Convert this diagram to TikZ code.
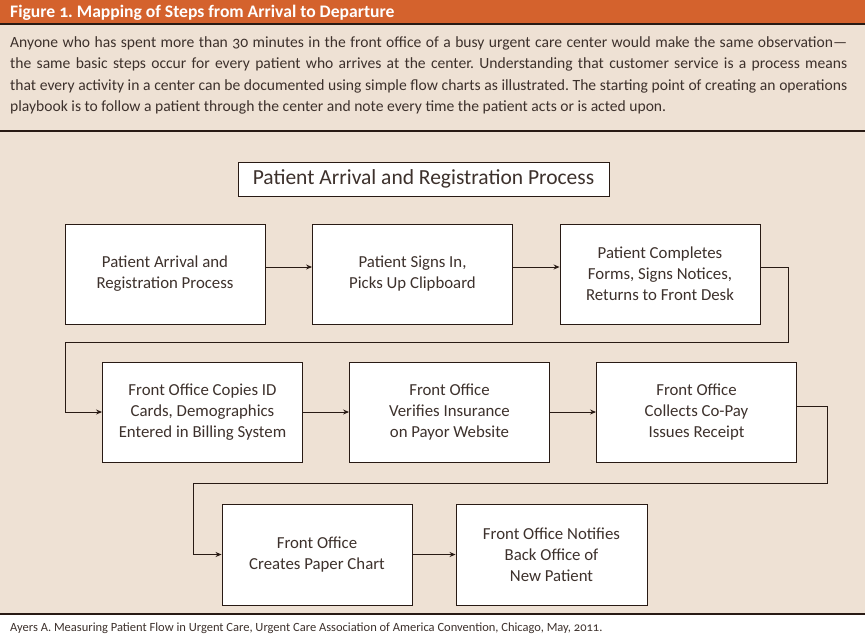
\documentclass[tikz,border=0pt]{standalone}
\usepackage{fontspec}
\setmainfont[Numbers=OldStyle]{Carlito}
\usetikzlibrary{arrows.meta}

\definecolor{headorange}{RGB}{212,98,45}
\definecolor{paperbeige}{RGB}{238,225,212}
\definecolor{inkline}{RGB}{40,26,20}

\tikzset{
  stepbox/.style={draw=inkline, fill=white, line width=0.9pt, align=center,
    minimum width=200pt, minimum height=100pt, inner sep=2pt,
    font=\fontsize{16.8}{21}\selectfont, text=inkline!90},
  flow/.style={draw=inkline, line width=0.9pt, -{Stealth[length=6pt,width=5pt]}},
}

\begin{document}
\frenchspacing
\hyphenpenalty=10000
\begin{tikzpicture}[x=1pt,y=-1pt]

\useasboundingbox (0,0) rectangle (865,638);

% header and background
\fill[headorange] (0,0) rectangle (865,24);
\fill[paperbeige] (0,24) rectangle (865,614);
\draw[inkline, line width=1.4pt] (0,24) -- (865,24);
\draw[inkline, line width=1.4pt] (0,131) -- (865,131);
\draw[inkline, line width=1.4pt] (0,614) -- (865,614);

\node[anchor=west, inner sep=0pt, text=white, font=\fontsize{17.6}{20}\selectfont\bfseries] (figtitle) at (10,12.5)
  {Figure 1. Mapping of Steps from Arrival to Departure};

\node[anchor=north west, inner sep=0pt, text width=837pt, align=justify, text=inkline!90,
  font=\fontsize{15.6}{21.6}\selectfont] (intro) at (10,36)
  {Anyone who has spent more than 30 minutes in the front office of a busy urgent care center would make the same observation\textemdash\linebreak
   the same basic steps occur for every patient who arrives at the center. Understanding that customer service is a process means\linebreak
   that every activity in a center can be documented using simple flow charts as illustrated. The starting point of creating an operations\linebreak
   playbook is to follow a patient through the center and note every time the patient acts or is acted upon.};

% chart heading
\node[draw=inkline, fill=white, line width=0.9pt, minimum width=371pt, minimum height=34pt,
  font=\fontsize{21.5}{24}\selectfont, text=inkline!90] (head) at (423.5,179) {Patient Arrival and Registration Process};

% row 1
\node[stepbox] (arrive) at (165,274) {Patient Arrival and\\Registration Process};
\node[stepbox] (signin) at (412.5,274) {Patient Signs In,\\Picks Up Clipboard};
\node[stepbox] (forms)  at (660,274) {Patient Completes\\Forms, Signs Notices,\\Returns to Front Desk};

% row 2
\node[stepbox] (copyid) at (202.5,412) {Front Office Copies ID\\Cards, Demographics\\Entered in Billing System};
\node[stepbox] (verify) at (449.5,412) {Front Office\\Verifies Insurance\\on Payor Website};
\node[stepbox] (copay)  at (696.5,412) {Front Office\\Collects Co-Pay\\Issues Receipt};

% row 3
\node[stepbox, minimum width=190pt, minimum height=101pt] (chart)  at (317,554.5) {Front Office\\Creates Paper Chart};
\node[stepbox, minimum width=191pt, minimum height=101pt] (notify) at (551.5,554.5) {Front Office Notifies\\Back Office of\\New Patient};

\coordinate (turnR1) at (788,342);
\coordinate (turnL1) at (65,342);
\coordinate (turnR2) at (827,483);
\coordinate (turnL2) at (193,483);

\draw[flow] ([yshift=7pt]arrive.east) -- ([yshift=7pt]signin.west);
\draw[flow] ([yshift=7pt]signin.east) -- ([yshift=7pt]forms.west);
\draw[flow] ([yshift=7pt]forms.east) -| (turnR1) -- (turnL1) |- (copyid.west);

\draw[flow] (copyid.east) -- (verify.west);
\draw[flow] (verify.east) -- (copay.west);
\draw[flow] ([yshift=6pt]copay.east) -| (turnR2) -- (turnL2) |- (chart.west);

\draw[flow] (chart.east) -- (notify.west);

% source
\node[anchor=west, inner sep=0pt, text=inkline!90, font=\fontsize{12.5}{14}\selectfont] (source) at (10,628)
  {Ayers A. Measuring Patient Flow in Urgent Care, Urgent Care Association of America Convention, Chicago, May, 2011.};

\end{tikzpicture}
\end{document}
